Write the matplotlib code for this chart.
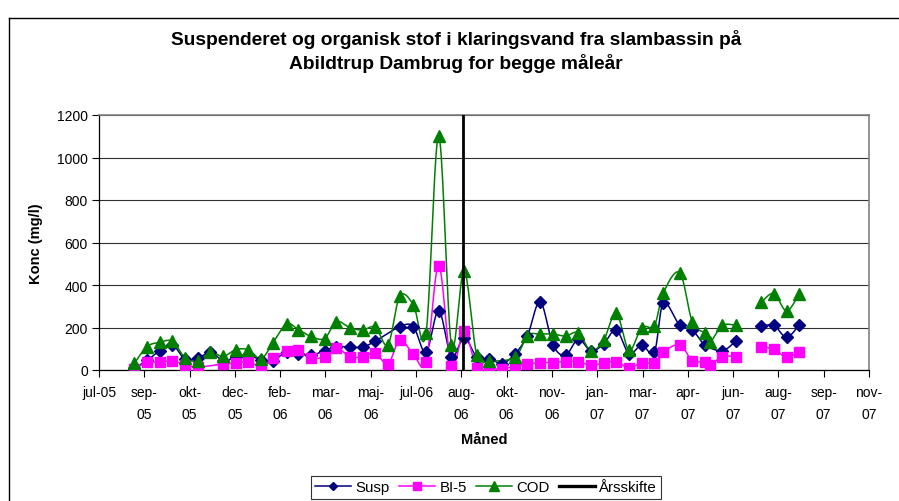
import numpy as np
import matplotlib
matplotlib.use('Agg')
import matplotlib.pyplot as plt
import matplotlib.dates as mdates
from matplotlib.lines import Line2D
from datetime import datetime, timedelta

# ---------------- data ----------------
dates = ['2005-08-25', '2005-09-08', '2005-09-22', '2005-10-06', '2005-10-20', '2005-11-03',
         '2005-11-17', '2005-12-01', '2005-12-15', '2005-12-29', '2006-01-12', '2006-01-25',
         '2006-02-09', '2006-02-22', '2006-03-08', '2006-03-23', '2006-04-05', '2006-04-20',
         '2006-05-04', '2006-05-18', '2006-06-01', '2006-06-14', '2006-06-29', '2006-07-13',
         '2006-07-27', '2006-08-10', '2006-08-24', '2006-09-07', '2006-09-21', '2006-10-05',
         '2006-10-19', '2006-11-02', '2006-11-16', '2006-11-30', '2006-12-14', '2006-12-28',
         '2007-01-11', '2007-01-25', '2007-02-08', '2007-02-22', '2007-03-08', '2007-03-22',
         '2007-04-01', '2007-04-19', '2007-05-03', '2007-05-17', '2007-05-23', '2007-06-05',
         '2007-06-20', '2007-07-18', '2007-08-01', '2007-08-15', '2007-08-29']
nan = np.nan
susp = [8, 45, 91, 119, 50, 55, 84, 44, 60, 70, 47, 44,
        85, 76, 70, 90, 110, 108, 108, 136, nan, 204, 204, 83,
        279, 63, 152, 62, 53, 30, 75, 162, 322, 120, 69, 146,
        90, 122, 189, 77, 118, 83, 315, 211, 188, 118, nan, 91,
        136, 205, 210, 154, 212]
bi5 = [3, 36, 36, 44, 24, 14, nan, 28, 33, 39, 16, 55,
       91, 92, 56, 63, 104, 63, 62, 79, 28, 141, 75, 39,
       491, 20, 183, 10, 6, 6, 17, 28, 35, 35, 40, 40,
       22, 33, 40, 9, 35, 34, 84, 119, 44, 40, 25, 63,
       63, 110, 97, 61, 86]
cod = [31, 110, 130, 135, 58, 42, 84, 64, 96, 95, 53, 128,
       217, 190, 158, 148, 228, 199, 188, 202, 119, 347, 308, 173,
       1100, 119, 467, 72, 44, nan, 60, 162, 169, 169, 160, 175,
       91, 140, 268, 93, 200, 209, 363, 458, 226, 173, 134, 210,
       210, 318, 360, 278, 359]
year_change = '2006-08-23'
x_start = '2005-07-17'
tick_step_days = 50
tick_labels = ['jul-05', 'sep-\n05', 'okt-\n05', 'dec-\n05', 'feb-\n06', 'mar-\n06',
               'maj-\n06', 'jul-06', 'aug-\n06', 'okt-\n06', 'nov-\n06', 'jan-\n07',
               'mar-\n07', 'apr-\n07', 'jun-\n07', 'aug-\n07', 'sep-\n07', 'nov-\n07']
y_ticks = [0, 200, 400, 600, 800, 1000, 1200]

title = 'Suspenderet og organisk stof i klaringsvand fra slambassin på\nAbildtrup Dambrug for begge måleår'

plt.rcParams['font.family'] = ['Liberation Sans', 'DejaVu Sans']

# ---------------- helpers ----------------
def smooth(xs, ys, n=20):
    """Excel-like smoothed line (Catmull-Rom as cubic Bezier)."""
    xs = np.asarray(xs, float); ys = np.asarray(ys, float)
    if len(xs) < 3:
        return xs, ys
    P = np.column_stack([xs, ys])
    P = np.vstack([P[0], P, P[-1]])
    out = []
    t = np.linspace(0, 1, n)[:, None]
    for i in range(1, len(P) - 2):
        p0, p1, p2, p3 = P[i - 1], P[i], P[i + 1], P[i + 2]
        c1 = p1 + (p2 - p0) / 6.0
        c2 = p2 - (p3 - p1) / 6.0
        seg = ((1 - t) ** 3) * p1 + 3 * ((1 - t) ** 2) * t * c1 + 3 * (1 - t) * t ** 2 * c2 + t ** 3 * p2
        out.append(seg if i == 1 else seg[1:])
    out = np.vstack(out)
    return out[:, 0], out[:, 1]

xnum = mdates.date2num([datetime.strptime(d, '%Y-%m-%d') for d in dates])

def segments(values):
    v = np.asarray(values, float)
    gaps = np.where(np.diff(xnum) > 21)[0]
    bounds = [0] + list(gaps + 1) + [len(xnum)]
    segs = []
    for a, b in zip(bounds[:-1], bounds[1:]):
        xx = xnum[a:b]; vv = v[a:b]
        m = ~np.isnan(vv)
        segs.append((xx[m], vv[m]))
    return segs

# ---------------- figure ----------------
fig = plt.figure(figsize=(8.99, 5.02), dpi=100)
W, H = 899, 502
ax = fig.add_axes([99 / W, 1 - 371 / H, (869 - 99) / W, (371 - 116) / H])

series = [
    ('Susp', susp, '#000080', 'D', 6),
    ('BI-5', bi5, '#FF00FF', 's', 7.5),
    ('COD', cod, '#008000', '^', 8),
]
handles = []
for name, vals, col, mk, ms in series:
    for xx, vv in segments(vals):
        sx, sy = smooth(xx, vv)
        ax.plot(sx, sy, color=col, lw=1.1, zorder=3)
        ax.plot(xx, vv, ls='none', marker=mk, ms=ms, color=col, mec=col, zorder=4)
    handles.append(Line2D([], [], color=col, lw=1.1, marker=mk, ms=ms - 1.5, mec=col))

yc = mdates.date2num(datetime.strptime(year_change, '%Y-%m-%d'))
ax.plot([yc, yc], [0, 1200], color='black', lw=2, zorder=5)
handles.append(Line2D([], [], color='black', lw=2.4))

x0 = mdates.date2num(datetime.strptime(x_start, '%Y-%m-%d'))
ticks = [x0 + tick_step_days * i for i in range(len(tick_labels))]
ax.set_xlim(ticks[0], ticks[-1])
ax.set_xticks(ticks)
ax.set_xticklabels(tick_labels, fontsize=10, linespacing=1.7)
ax.set_ylim(0, 1200)
ax.set_yticks(y_ticks)
ax.set_yticklabels([str(v) for v in y_ticks], fontsize=10)
ax.tick_params(axis='both', direction='out', length=5, width=0.8, color='black')
ax.tick_params(axis='x', pad=6)
ax.tick_params(axis='y', pad=3)

ax.grid(axis='y', color='#303030', lw=0.8)
ax.set_axisbelow(True)
for s in ['top', 'right']:
    ax.spines[s].set_color('#808080')
    ax.spines[s].set_linewidth(1.2)
for s in ['left', 'bottom']:
    ax.spines[s].set_color('black')
    ax.spines[s].set_linewidth(0.9)

ax.set_ylabel('Konc (mg/l)', fontsize=10.5, fontweight='bold', labelpad=10)
ax.set_xlabel('Måned', fontsize=10.5, fontweight='bold', labelpad=8)

fig.text(456 / W, 1 - 51.5 / H, title, ha='center', va='center', fontsize=13.8,
         fontweight='bold', linespacing=1.28)

leg = fig.legend(handles, ['Susp', 'BI-5', 'COD', 'Årsskifte'], loc='center',
                 bbox_to_anchor=(486 / W, 1 - 488 / H), ncol=4, frameon=True,
                 fontsize=10.8, handlelength=2.4, handletextpad=0.3, columnspacing=0.6,
                 borderpad=0.3, fancybox=False, edgecolor='black')
leg.get_frame().set_linewidth(0.8)

# chart area border
fig.add_artist(Line2D([8.5 / W, 8.5 / W], [0, 1 - 18.5 / H], transform=fig.transFigure, color='black', lw=1))
fig.add_artist(Line2D([8.5 / W, 1], [1 - 18.5 / H, 1 - 18.5 / H], transform=fig.transFigure, color='black', lw=1))

fig.savefig('out.png', dpi=100)
